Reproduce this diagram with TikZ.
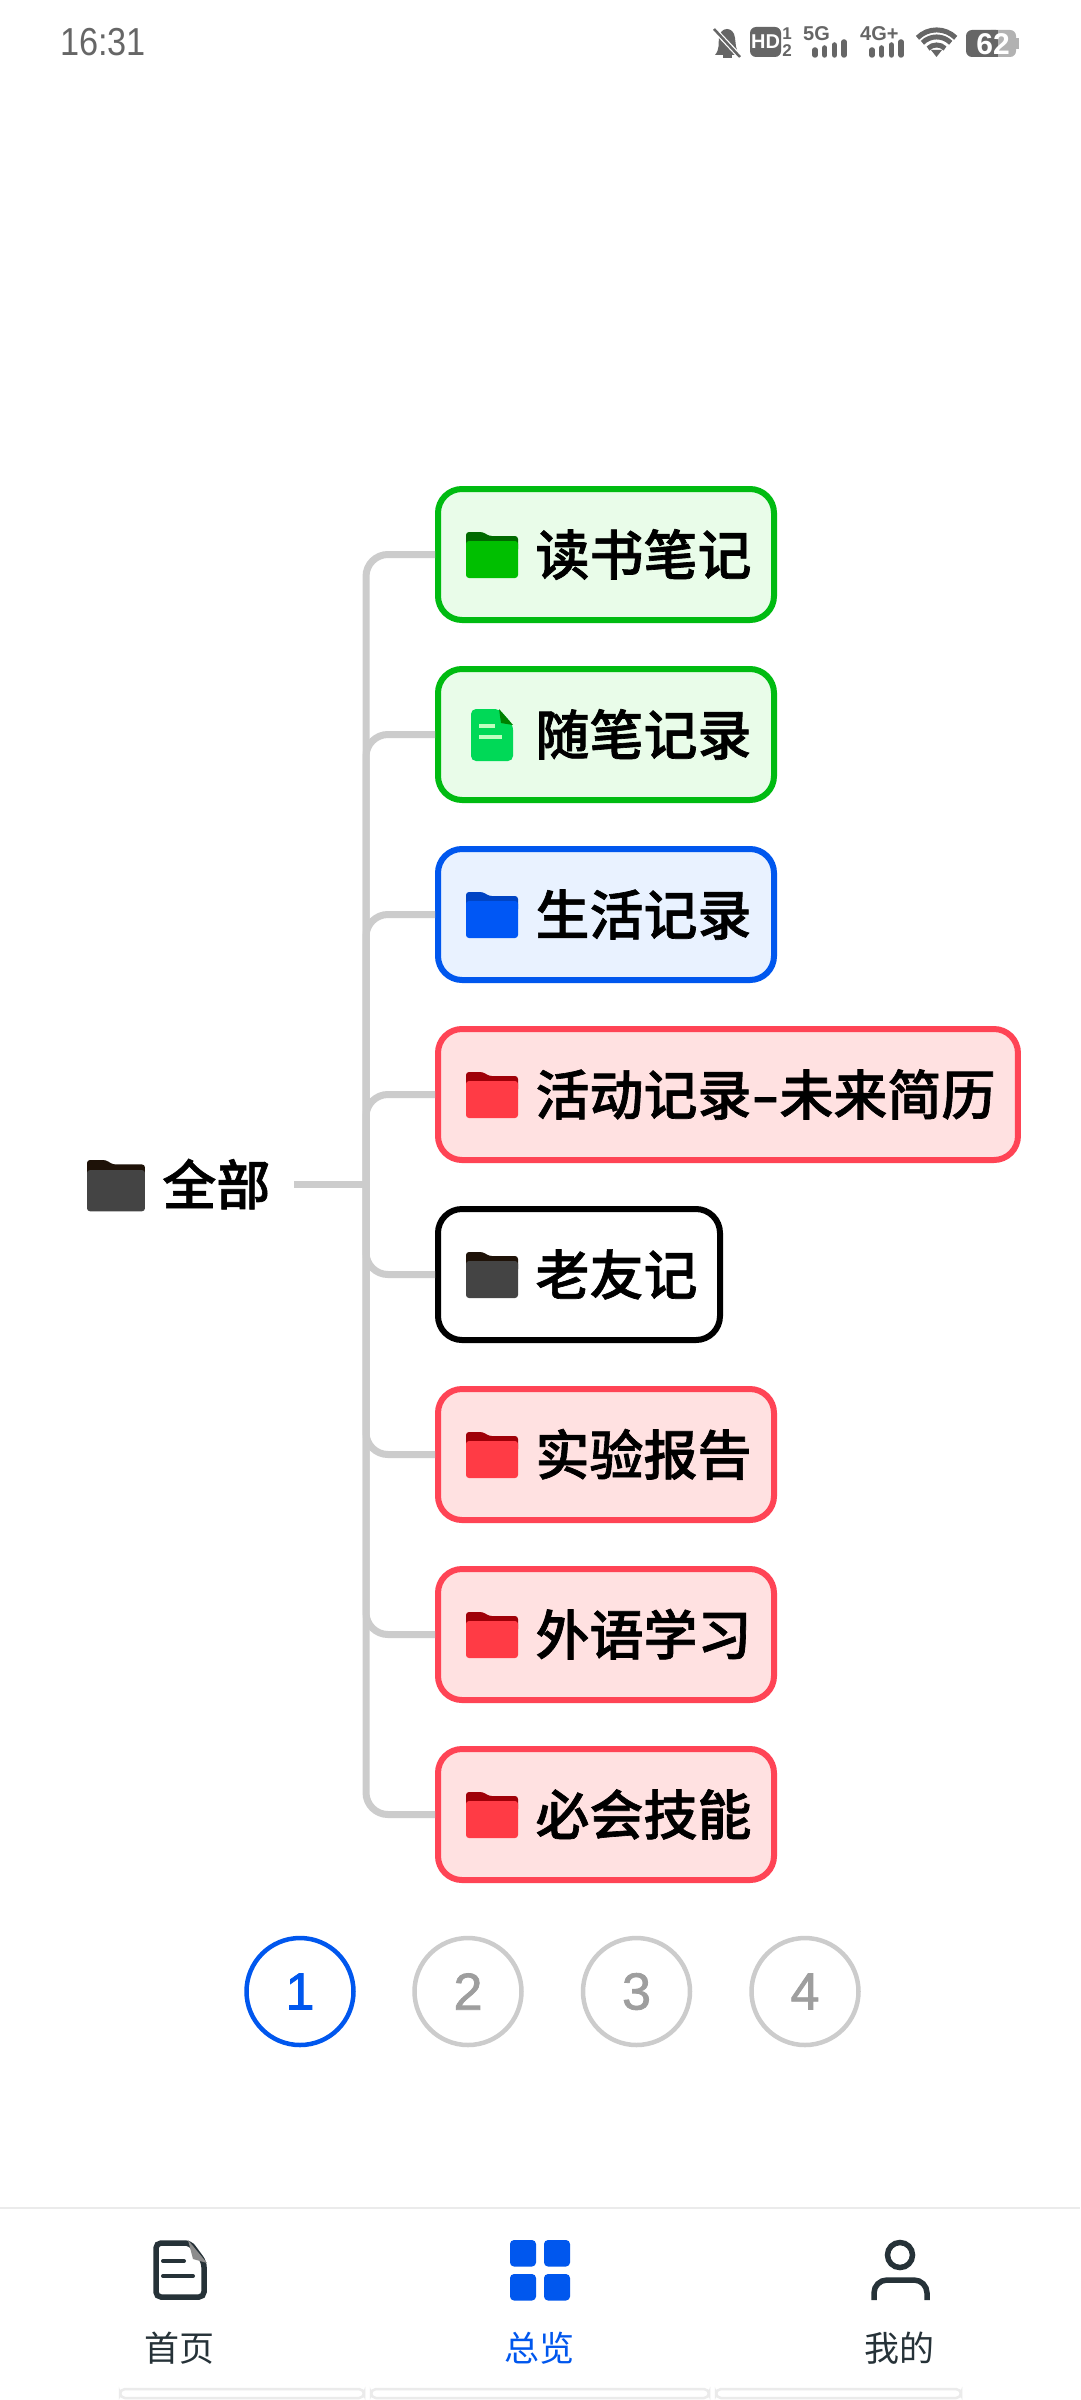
\documentclass[tikz,border=0pt]{standalone}
\usepackage{xcolor}
\usepackage{fontspec}
\newfontfamily\cjk{Noto Sans CJK SC}
\newfontfamily\cjkmed[FakeBold=1.2]{Noto Sans CJK SC Medium}
\newfontfamily\clockfont[FakeStretch=0.88]{Liberation Sans}
\newfontfamily\uifont{Liberation Sans}
\newfontfamily\pagefont[FakeBold=1.5]{Liberation Sans}
\definecolor{treeGreen}{HTML}{00BB11}
\definecolor{treeGreenFill}{HTML}{E9FCE9}
\definecolor{treeBlue}{HTML}{0057EE}
\definecolor{treeBlueFill}{HTML}{E9F2FF}
\definecolor{treeRed}{HTML}{FF4455}
\definecolor{treeRedFill}{HTML}{FFE1E1}
\definecolor{lineGray}{HTML}{CCCCCC}
\definecolor{iconDark}{HTML}{263238}
\definecolor{statusGray}{HTML}{666666}
\definecolor{folderRed}{HTML}{FF3B45}
\definecolor{folderRedBack}{HTML}{A00008}
\definecolor{folderBlue}{HTML}{0057F5}
\definecolor{folderBlueBack}{HTML}{0044C4}
\definecolor{folderGreen}{HTML}{00BF00}
\definecolor{folderGreenBack}{HTML}{006A00}
\definecolor{folderBlack}{HTML}{444444}
\definecolor{folderBlackBack}{HTML}{1E1208}

% x, y of the top left corner, scale, back colour, front colour
\newcommand{\folderIcon}[5]{
  \begin{scope}[shift={(#1,#2)},scale=#3]
    \fill[#4,rounded corners=3pt] (0,0) -- (17,0) -- (23,4) -- (52,4) -- (52,20) -- (0,20) -- cycle;
    \fill[#5,rounded corners=3pt] (0,9) rectangle (52,46);
  \end{scope}
}
\newcommand{\signalBars}[1]{
  \foreach \i/\top in {0/48,1/46,2/43,3/40} {
    \draw[statusGray,line width=5.5pt,line cap=round] (#1+2+9.7*\i,\top+2) -- (#1+2+9.7*\i,55);
  }
}

\begin{document}
\begin{tikzpicture}[x=1pt,y=-1pt,
    mybox/.style 2 args={
      draw=#1, fill=#2, line width=6pt, rounded corners=24pt,
      anchor=west, inner xsep=22.5pt, minimum height=131pt,
      text height=47.5pt, text depth=6.5pt,
      font=\fontsize{54}{60}\selectfont\cjkmed
    },
    branchLine/.style={draw=lineGray, line width=7pt, rounded corners=22pt},
    pageDot/.style 2 args={
      draw=#1, text=#2, circle, line width=4.5pt, minimum size=107pt, inner sep=0pt,
      font=\fontsize{52}{60}\selectfont\pagefont
    },
    navText/.style={font=\fontsize{35}{40}\selectfont\cjk, text=#1},
    statusText/.style={font=\fontsize{#1}{#1}\selectfont\uifont\bfseries, inner sep=0pt},
    navStrip/.style={draw=black!8, line width=2.5pt, rounded corners=5pt}
  ]
  \useasboundingbox (0,0) rectangle (1080,2400);
  \fill[white] (0,0) rectangle (1080,2400);

  % status bar
  \node[anchor=west, inner sep=0pt, text=statusGray, font=\fontsize{39}{40}\selectfont\clockfont] (clockText) at (60,42) {16:31};
  \fill[statusGray] (715,55) .. controls (720,49) and (718,44) .. (719,38) .. controls (720,26) and (734,26) .. (735,38) .. controls (736,44) and (735,49) .. (740,55) -- cycle;
  \fill[statusGray] (723,55) rectangle (732,58);
  \draw[white,line width=5pt] (711,26) -- (743,60);
  \draw[statusGray,line width=2.5pt] (714,29) -- (740,57);
  \fill[statusGray,rounded corners=6pt] (750,27) rectangle (781,57);
  \node[statusText=20, text=white] (hdText) at (765.5,42) {HD};
  \node[statusText=17, text=statusGray] (simOne) at (787,34) {1};
  \node[statusText=17, text=statusGray] (simTwo) at (787,51) {2};
  \node[statusText=20, text=statusGray, anchor=west] (fiveG) at (803,34) {5G};
  \signalBars{813}
  \node[statusText=20, text=statusGray, anchor=west] (fourG) at (860,34) {4G+};
  \signalBars{870}
  \foreach \r in {12,20,27} {
    \draw[statusGray,line width=5pt] (936.5+\r*0.71,57-\r*0.71) arc[start angle=-45,end angle=-135,radius=\r];
  }
  \fill[statusGray] (936.5,57) -- (931,50) -- (942,50) -- cycle;
  \fill[black!30,rounded corners=6pt] (985,30) rectangle (1016,57);
  \fill[black!30] (1016,38) rectangle (1019,49);
  \fill[statusGray,rounded corners=6pt] (966,30) rectangle (1002,57);
  \fill[statusGray] (990,30) rectangle (998,57);
  \fill[black!30] (998,30) rectangle (1005,57);
  \node[statusText=30, text=white] (batteryText) at (993,44) {62};

  % tree
  \coordinate (junction) at (366,1184.5);
  \node[anchor=east, inner xsep=23.5pt, inner ysep=0pt, text height=47.5pt, text depth=6.5pt,
        font=\fontsize{54}{60}\selectfont\cjkmed] (allRoot) at (294,1184.5) {\hspace*{3pt}全部};

  \node[mybox={treeGreen}{treeGreenFill}] (readingNotes) at (435,554.5) {\hspace*{75pt}读书笔记};
  \node[mybox={treeGreen}{treeGreenFill}] (essayNotes) at (435,734.5) {\hspace*{75pt}随笔记录};
  \node[mybox={treeBlue}{treeBlueFill}] (lifeNotes) at (435,914.5) {\hspace*{75pt}生活记录};
  \node[mybox={treeRed}{treeRedFill}] (activityNotes) at (435,1094.5) {\hspace*{75pt}活动记录\scalebox{1.45}[1]{-}未来简历};
  \node[mybox={black}{white}] (oldFriends) at (435,1274.5) {\hspace*{75pt}老友记};
  \node[mybox={treeRed}{treeRedFill}] (labReports) at (435,1454.5) {\hspace*{75pt}实验报告};
  \node[mybox={treeRed}{treeRedFill}] (languageStudy) at (435,1634.5) {\hspace*{75pt}外语学习};
  \node[mybox={treeRed}{treeRedFill}] (mustSkills) at (435,1814.5) {\hspace*{75pt}必会技能};

  \draw[branchLine] (allRoot.east) -- (junction);
  \foreach \target in {readingNotes,essayNotes,lifeNotes,activityNotes,oldFriends,labReports,languageStudy,mustSkills} {
    \draw[branchLine] (junction) |- (\target.west);
  }

  \folderIcon{87}{1160}{1.115}{folderBlackBack}{folderBlack}
  \folderIcon{466}{532}{1}{folderGreenBack}{folderGreen}
  \folderIcon{466}{892}{1}{folderBlueBack}{folderBlue}
  \folderIcon{466}{1072}{1}{folderRedBack}{folderRed}
  \folderIcon{466}{1252}{1}{folderBlackBack}{folderBlack}
  \folderIcon{466}{1432}{1}{folderRedBack}{folderRed}
  \folderIcon{466}{1612}{1}{folderRedBack}{folderRed}
  \folderIcon{466}{1792}{1}{folderRedBack}{folderRed}

  % file icon of the second box
  \fill[green!60!cyan!85!black,rounded corners=5pt] (471,709) -- (499,709) -- (513,725) -- (513,761) -- (471,761) -- cycle;
  \fill[green!50!black] (499,709) -- (513,725) -- (501,723) -- cycle;
  \draw[green!25!white,line width=3.5pt] (479,726) -- (495,726);
  \draw[green!25!white,line width=3.5pt] (479,737) -- (502,737);

  % pages
  \node[pageDot={treeBlue}{treeBlue}] (pageOne) at (300,1991.5) {1};
  \node[pageDot={lineGray}{black!38}] (pageTwo) at (468,1991.5) {2};
  \node[pageDot={lineGray}{black!38}] (pageThree) at (636.5,1991.5) {3};
  \node[pageDot={lineGray}{black!38}] (pageFour) at (805,1991.5) {4};

  % bottom bar
  \draw[black!8,line width=2.5pt] (0,2208) -- (1080,2208);
  \draw[iconDark,line width=5.5pt,rounded corners=5pt] (156,2243) -- (190,2243) -- (204,2262) -- (204,2297) -- (156,2297) -- cycle;
  \fill[black!45] (188,2240) -- (207,2263) -- (193,2259) -- cycle;
  \draw[iconDark,line width=4pt,line cap=round] (163,2261) -- (184,2261);
  \draw[iconDark,line width=4pt,line cap=round] (163,2276) -- (193,2276);
  \foreach \x in {510,544} {
    \foreach \y in {2240,2274} {
      \fill[treeBlue,rounded corners=4pt] (\x,\y) rectangle (\x+26,\y+26.5);
    }
  }
  \draw[iconDark,line width=5.5pt] (900,2255) circle[radius=12.5];
  \draw[iconDark,line width=5.5pt,rounded corners=13pt] (874,2300) -- (874,2280) -- (927,2280) -- (927,2300);
  \node[navText=iconDark] (navHome) at (179,2348) {首页};
  \node[navText=treeBlue] (navOverview) at (539,2348) {总览};
  \node[navText=iconDark] (navMine) at (899,2348) {我的};
  \draw[navStrip] (120,2389) rectangle (364,2398);
  \draw[navStrip] (371,2389) rectangle (709,2398);
  \draw[navStrip] (716,2389) rectangle (961,2398);
\end{tikzpicture}
\end{document}
